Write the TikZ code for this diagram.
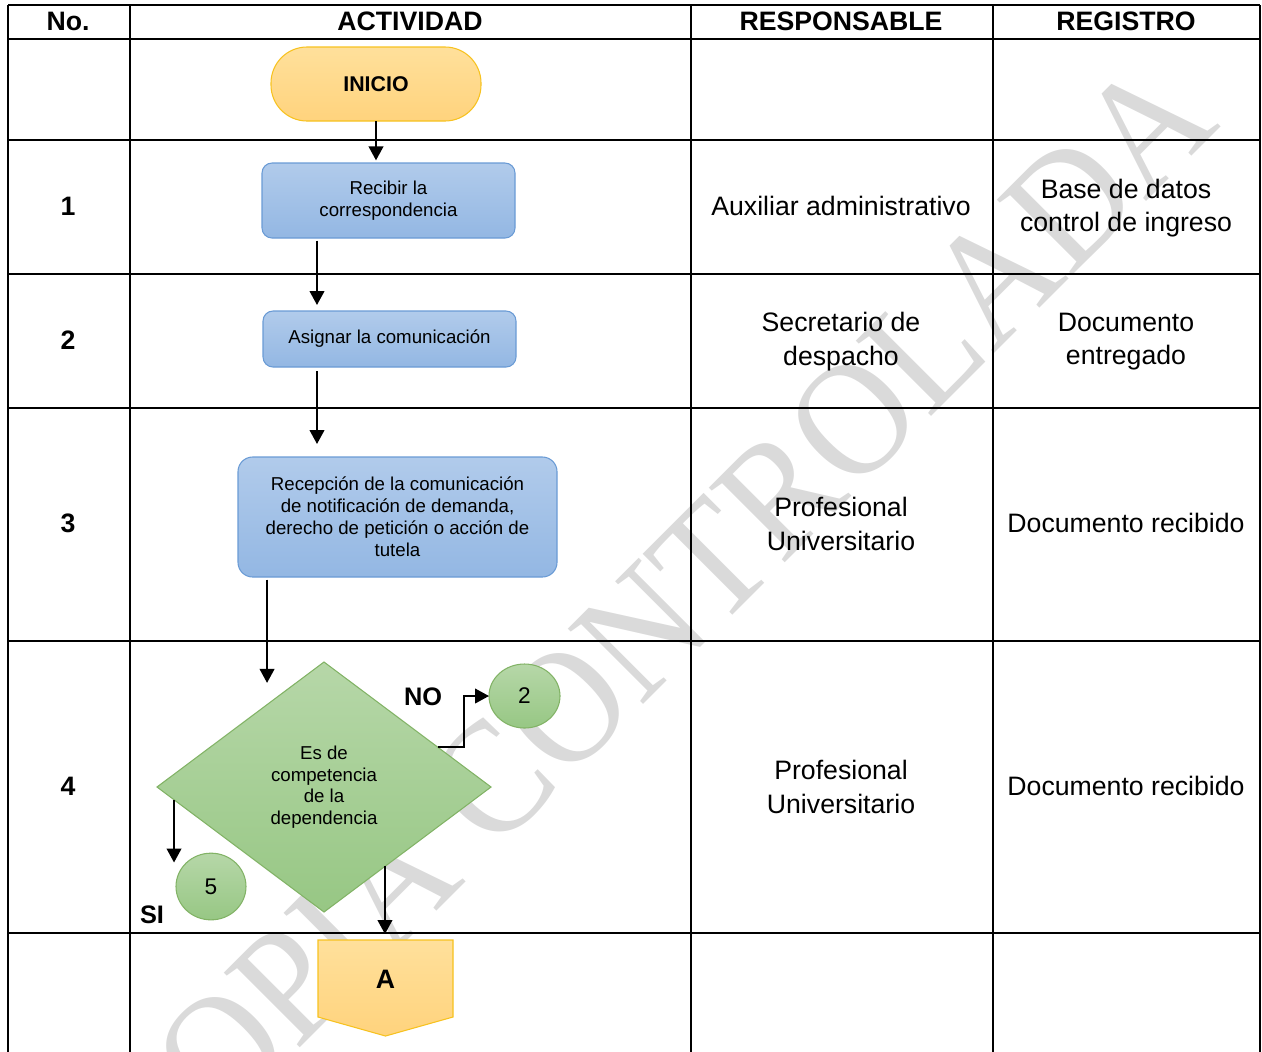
\documentclass[tikz,border=0pt]{standalone}
\usepackage{fontspec}
\setmainfont{Liberation Sans}
\newfontfamily\marcafont{Liberation Serif}
\usetikzlibrary{shapes.geometric,arrows.meta,calc}

\definecolor{inicioTop}{HTML}{FFE09B}
\definecolor{inicioBot}{HTML}{FFD37D}
\definecolor{inicioLine}{HTML}{F7C21F}
\definecolor{procTop}{HTML}{B1CBEB}
\definecolor{procBot}{HTML}{93B7E3}
\definecolor{procLine}{HTML}{6A9BD5}
\definecolor{decTop}{HTML}{B6D7A8}
\definecolor{decBot}{HTML}{97C784}
\definecolor{decLine}{HTML}{82B366}
\definecolor{marca}{HTML}{DADADA}

\begin{document}
\begin{tikzpicture}[x=0.75pt,y=-0.75pt,
        >={Triangle[length=10.5pt,width=11pt]},
        arr/.style={->,line width=1.5pt},
        grid line/.style={line width=1.6pt},
        head/.style={font=\fontsize{20}{24}\selectfont\bfseries},
        cell/.style={align=center,font=\fontsize{20}{25}\selectfont},
        terminal/.style={rectangle,rounded corners=27pt,draw=inicioLine,top color=inicioTop,bottom color=inicioBot,
            line width=0.8pt,font=\fontsize{16}{19}\selectfont\bfseries,minimum width=157.5pt,minimum height=55.5pt,outer sep=0pt},
        proc/.style={rectangle,rounded corners=7.5pt,draw=procLine,top color=procTop,bottom color=procBot,
            line width=0.8pt,align=center,font=\fontsize{14}{16.5}\selectfont,inner sep=0pt,outer sep=0pt},
        decide/.style={diamond,draw=decLine,top color=decTop,bottom color=decBot,line width=0.8pt,align=center,
            font=\fontsize{14}{16.25}\selectfont,minimum width=250.5pt,minimum height=187.5pt,inner sep=0pt,outer sep=0pt},
        link/.style={ellipse,draw=decLine,top color=decTop,bottom color=decBot,line width=0.8pt,
            font=\fontsize{17}{20}\selectfont,inner sep=0pt,outer sep=0pt},
        tag/.style={font=\fontsize{19}{23}\selectfont\bfseries}]
        \useasboundingbox (0,0) rectangle (1262,1051);
        \clip (0,0) rectangle (1262,1051);

        % marca de agua
        \node[rotate=45,xscale=0.92,anchor=base,text=marca,font=\marcafont\fontsize{122}{122}\selectfont] (marca) at (686,662) {COPIA CONTROLADA};

        % tabla
        \foreach \y in {5,39,140,274,408,641,933}
            \draw[grid line] (8,\y) -- (1260,\y);
        \foreach \x in {8,130,691,993,1260}
            \draw[grid line] (\x,5) -- (\x,1060);

        \node[head] (h_no)   at (68,21)   {No.};
        \node[head] (h_act)  at (410,21)  {ACTIVIDAD};
        \node[head] (h_resp) at (841,21)  {RESPONSABLE};
        \node[head] (h_reg)  at (1126,21) {REGISTRO};

        \node[head] (no_1) at (68,206) {1};
        \node[head] (no_2) at (68,340) {2};
        \node[head] (no_3) at (68,523) {3};
        \node[head] (no_4) at (68,786) {4};

        \node[cell] (resp_1) at (841,206)   {Auxiliar administrativo};
        \node[cell] (resp_2) at (841,341.5) {Secretario de\\despacho};
        \node[cell] (resp_3) at (841,524)   {Profesional\\Universitario};
        \node[cell] (resp_4) at (841,787)   {Profesional\\Universitario};

        \node[cell] (reg_1) at (1126,208)   {Base de datos\\control de ingreso};
        \node[cell] (reg_2) at (1126,341.5) {Documento\\entregado};
        \node[cell] (reg_3) at (1126,523)   {Documento recibido};
        \node[cell] (reg_4) at (1126,786)   {Documento recibido};

        % flujo
        \node[terminal] (inicio) at (376,84) {INICIO};
        \node[proc,minimum width=189.75pt,minimum height=56.25pt] (paso_1) at (388.5,200.5) {Recibir la\\correspondencia};
        \node[proc,minimum width=189.75pt,minimum height=42pt] (paso_2) at (389.5,339) {Asignar la comunicación};
        \node[proc,rounded corners=11pt,minimum width=239.25pt,minimum height=90pt] (paso_3) at (397.5,517)
            {Recepción de la comunicación\\de notificación de demanda,\\derecho de petición o acción de\\tutela};
        \node[decide] (decision) at (324,787) {Es de\\competencia\\de la\\dependencia};
        \node[link,minimum width=53.25pt,minimum height=48pt] (con_2) at (524.5,696) {2};
        \node[link,minimum width=52.5pt,minimum height=50pt] (con_5) at (211,886.5) {5};

        \shade[top color=inicioTop,bottom color=inicioBot,draw=inicioLine,line width=0.8pt]
            (318,940) -- (453,940) -- (453,1017) -- (385.5,1036) -- (318,1017) -- cycle;
        \node[minimum width=101.25pt,minimum height=57.75pt,outer sep=0pt,font=\fontsize{20}{24}\selectfont\bfseries] (con_A) at (385.5,979.5) {A};

        \node[tag] (lbl_no) at (423,697) {NO};
        \node[tag] (lbl_si) at (152,915) {SI};

        \coordinate (no_out) at ($(decision.north)!0.683!(decision.east)$);
        \coordinate (si_out) at ($(decision.west)!0.102!(decision.south)$);
        \coordinate (a_out)  at ($(decision.south)!0.365!(decision.east)$);
        \coordinate (d_in)   at ($(decision.north)!0.341!(decision.west)$);

        \path[arr]
            (inicio.south) edge[shorten >=2pt] (inicio.south |- paso_1.north)
            (317,0 |- paso_1.south) edge[shorten <=2pt,shorten >=4.5pt] (317,0 |- paso_2.north)
            (317,0 |- paso_2.south) edge[shorten <=3pt,shorten >=9.75pt] (317,0 |- paso_3.north)
            (d_in |- paso_3.south) edge[shorten <=2pt,shorten >=16.3pt] (d_in)
            (a_out) edge[shorten >=5.25pt] (a_out |- con_A.north)
            (si_out) edge[shorten >=18pt] (si_out |- con_5.center);
        \draw[arr] (no_out) -- ++(26,0) |- (con_2.west);
    \end{tikzpicture}
\end{document}
